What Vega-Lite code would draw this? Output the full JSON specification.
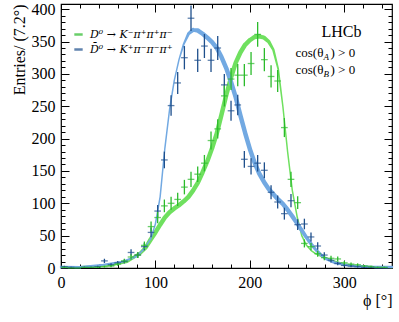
{
"$schema":"https://vega.github.io/schema/vega-lite/v6.json",
"width":331,"height":264,"autosize":{"type":"none"},
"padding":{"left":61,"top":4,"right":7,"bottom":54},
"background":"white",
"config":{"view":{"stroke":"black","strokeWidth":1.2},
 "axis":{"domain":false,"grid":false,"tickColor":"black","labelColor":"black","titleColor":"black","labelFont":"Liberation Serif","titleFont":"Liberation Serif","labelFontSize":16,"titleFontSize":16,"titleFontWeight":"normal","tickWidth":1}},
"datasets":{
"pts":[
{"s":"b","phi":3.6,"n":2,"e":1.4},{"s":"b","phi":10.7,"n":1,"e":1},{"s":"b","phi":17.7,"n":0,"e":0},{"s":"b","phi":24.8,"n":1,"e":1},{"s":"b","phi":31.8,"n":1,"e":1},{"s":"b","phi":38.9,"n":2,"e":1.4},{"s":"b","phi":46.0,"n":11,"e":3.3},{"s":"b","phi":53.0,"n":5,"e":2.2},{"s":"b","phi":60.1,"n":8,"e":2.8},{"s":"b","phi":67.1,"n":10,"e":3.2},{"s":"b","phi":74.2,"n":24,"e":4.9},{"s":"b","phi":81.3,"n":20,"e":4.5},{"s":"b","phi":88.3,"n":33,"e":5.7},{"s":"b","phi":95.4,"n":55,"e":7.4},{"s":"b","phi":102.4,"n":88,"e":9.4},{"s":"b","phi":109.5,"n":167,"e":12.9},{"s":"b","phi":116.6,"n":251,"e":15.8},{"s":"b","phi":123.6,"n":286,"e":16.9},{"s":"b","phi":130.7,"n":325,"e":18},{"s":"b","phi":137.7,"n":386,"e":19.6},{"s":"b","phi":144.8,"n":321,"e":17.9},{"s":"b","phi":151.9,"n":343,"e":18.5},{"s":"b","phi":158.9,"n":321,"e":17.9},{"s":"b","phi":166.0,"n":340,"e":18.4},{"s":"b","phi":173.0,"n":283,"e":16.8},{"s":"b","phi":180.1,"n":243,"e":15.6},{"s":"b","phi":187.2,"n":252,"e":15.9},{"s":"b","phi":194.2,"n":168,"e":13},{"s":"b","phi":201.3,"n":157,"e":12.5},{"s":"b","phi":208.3,"n":162,"e":12.7},{"s":"b","phi":215.4,"n":151,"e":12.3},{"s":"b","phi":222.5,"n":117,"e":10.8},{"s":"b","phi":229.5,"n":102,"e":10.1},{"s":"b","phi":236.6,"n":84,"e":9.2},{"s":"b","phi":243.6,"n":104,"e":10.2},{"s":"b","phi":250.7,"n":67,"e":8.2},{"s":"b","phi":257.8,"n":68,"e":8.2},{"s":"b","phi":264.8,"n":48,"e":6.9},{"s":"b","phi":271.9,"n":34,"e":5.8},{"s":"b","phi":278.9,"n":20,"e":4.5},{"s":"b","phi":286.0,"n":12,"e":3.5},{"s":"b","phi":293.1,"n":7,"e":2.6},{"s":"b","phi":300.1,"n":4,"e":2},{"s":"b","phi":307.2,"n":3,"e":1.7},{"s":"b","phi":314.2,"n":2,"e":1.4},{"s":"b","phi":321.3,"n":1,"e":1},{"s":"b","phi":328.4,"n":1,"e":1},{"s":"b","phi":335.4,"n":0,"e":0},{"s":"b","phi":342.5,"n":0,"e":0},
{"s":"g","phi":3.6,"n":1,"e":1},{"s":"g","phi":10.7,"n":0,"e":0},{"s":"g","phi":17.7,"n":0,"e":0},{"s":"g","phi":24.8,"n":1,"e":1},{"s":"g","phi":31.8,"n":1,"e":1},{"s":"g","phi":38.9,"n":1,"e":1},{"s":"g","phi":46.0,"n":2,"e":1.4},{"s":"g","phi":53.0,"n":3,"e":1.7},{"s":"g","phi":60.1,"n":6,"e":2.4},{"s":"g","phi":67.1,"n":11,"e":3.3},{"s":"g","phi":74.2,"n":17,"e":4.1},{"s":"g","phi":81.3,"n":20,"e":4.5},{"s":"g","phi":88.3,"n":35,"e":5.9},{"s":"g","phi":95.4,"n":64,"e":8},{"s":"g","phi":102.4,"n":78,"e":8.8},{"s":"g","phi":109.5,"n":96,"e":9.8},{"s":"g","phi":116.6,"n":100,"e":10},{"s":"g","phi":123.6,"n":106,"e":10.3},{"s":"g","phi":130.7,"n":125,"e":11.2},{"s":"g","phi":137.7,"n":137,"e":11.7},{"s":"g","phi":144.8,"n":145,"e":12},{"s":"g","phi":151.9,"n":162,"e":12.7},{"s":"g","phi":158.9,"n":197,"e":14},{"s":"g","phi":166.0,"n":215,"e":14.7},{"s":"g","phi":173.0,"n":266,"e":16.3},{"s":"g","phi":180.1,"n":292,"e":17.1},{"s":"g","phi":187.2,"n":298,"e":17.3},{"s":"g","phi":194.2,"n":298,"e":17.3},{"s":"g","phi":201.3,"n":316,"e":17.8},{"s":"g","phi":208.3,"n":361,"e":19},{"s":"g","phi":215.4,"n":322,"e":17.9},{"s":"g","phi":222.5,"n":296,"e":17.2},{"s":"g","phi":229.5,"n":289,"e":17},{"s":"g","phi":236.6,"n":217,"e":14.7},{"s":"g","phi":243.6,"n":137,"e":11.7},{"s":"g","phi":250.7,"n":101,"e":10},{"s":"g","phi":257.8,"n":38,"e":6.2},{"s":"g","phi":264.8,"n":33,"e":5.7},{"s":"g","phi":271.9,"n":22,"e":4.7},{"s":"g","phi":278.9,"n":16,"e":4},{"s":"g","phi":286.0,"n":15,"e":3.9},{"s":"g","phi":293.1,"n":14,"e":3.7},{"s":"g","phi":300.1,"n":8,"e":2.8},{"s":"g","phi":307.2,"n":6,"e":2.4},{"s":"g","phi":314.2,"n":5,"e":2.2},{"s":"g","phi":321.3,"n":3,"e":1.7},{"s":"g","phi":328.4,"n":2,"e":1.4},{"s":"g","phi":335.4,"n":1,"e":1},{"s":"g","phi":342.5,"n":1,"e":1}
],
"fit":[
{"s":"g","phi":0,"n":1.5,"w":2},{"s":"g","phi":20,"n":1.5,"w":2},{"s":"g","phi":40,"n":3,"w":2},{"s":"g","phi":55,"n":5,"w":2.5},{"s":"g","phi":70,"n":10,"w":3},{"s":"g","phi":84,"n":23,"w":3.5},{"s":"g","phi":90,"n":32,"w":4},{"s":"g","phi":95,"n":44,"w":4.5},{"s":"g","phi":100,"n":55,"w":4.5},{"s":"g","phi":105,"n":67,"w":4.5},{"s":"g","phi":110,"n":78,"w":4.5},{"s":"g","phi":115,"n":86,"w":4.5},{"s":"g","phi":120,"n":92,"w":4.5},{"s":"g","phi":125,"n":97,"w":4.5},{"s":"g","phi":130,"n":103,"w":4.5},{"s":"g","phi":135,"n":110,"w":4.5},{"s":"g","phi":140,"n":120,"w":4.5},{"s":"g","phi":145,"n":132,"w":4.5},{"s":"g","phi":150,"n":148,"w":4.5},{"s":"g","phi":155,"n":165,"w":4.5},{"s":"g","phi":160,"n":185,"w":4.5},{"s":"g","phi":165,"n":208,"w":4.5},{"s":"g","phi":170,"n":237,"w":4.5},{"s":"g","phi":175,"n":267,"w":4.5},{"s":"g","phi":180,"n":294,"w":4.5},{"s":"g","phi":185,"n":317,"w":4.5},{"s":"g","phi":190,"n":333,"w":4.5},{"s":"g","phi":195,"n":345,"w":4.5},{"s":"g","phi":200,"n":352,"w":4.5},{"s":"g","phi":205,"n":357,"w":4.5},{"s":"g","phi":210,"n":358,"w":4.5},{"s":"g","phi":215,"n":356,"w":4},{"s":"g","phi":220,"n":350,"w":3.5},{"s":"g","phi":225,"n":337,"w":2.5},{"s":"g","phi":230,"n":308,"w":1.8},{"s":"g","phi":235,"n":250,"w":1.5},{"s":"g","phi":240,"n":180,"w":1.5},{"s":"g","phi":245,"n":120,"w":1.5},{"s":"g","phi":250,"n":80,"w":1.5},{"s":"g","phi":255,"n":50,"w":1.5},{"s":"g","phi":260,"n":35,"w":1.5},{"s":"g","phi":265,"n":27,"w":1.5},{"s":"g","phi":270,"n":22,"w":1.5},{"s":"g","phi":280,"n":15,"w":1.8},{"s":"g","phi":290,"n":10,"w":2},{"s":"g","phi":300,"n":6,"w":2},{"s":"g","phi":310,"n":4,"w":2},{"s":"g","phi":330,"n":2,"w":2},{"s":"g","phi":350.6,"n":1,"w":2},
{"s":"b","phi":0,"n":1.5,"w":2.5},{"s":"b","phi":20,"n":1.5,"w":2},{"s":"b","phi":45,"n":5,"w":2},{"s":"b","phi":66,"n":10,"w":2},{"s":"b","phi":80,"n":18,"w":1.8},{"s":"b","phi":87,"n":28,"w":1.5},{"s":"b","phi":95,"n":45,"w":1.5},{"s":"b","phi":100,"n":68,"w":1.5},{"s":"b","phi":105,"n":110,"w":1.5},{"s":"b","phi":110,"n":185,"w":1.5},{"s":"b","phi":115,"n":245,"w":1.5},{"s":"b","phi":120,"n":290,"w":1.5},{"s":"b","phi":125,"n":322,"w":1.5},{"s":"b","phi":130,"n":346,"w":2},{"s":"b","phi":135,"n":362,"w":3},{"s":"b","phi":140,"n":368,"w":4},{"s":"b","phi":145,"n":367,"w":4.5},{"s":"b","phi":150,"n":362,"w":4.5},{"s":"b","phi":155,"n":356,"w":4.5},{"s":"b","phi":160,"n":349,"w":4.5},{"s":"b","phi":165,"n":340,"w":4.5},{"s":"b","phi":170,"n":326,"w":4.5},{"s":"b","phi":175,"n":309,"w":4.5},{"s":"b","phi":180,"n":288,"w":4.5},{"s":"b","phi":185,"n":264,"w":4.5},{"s":"b","phi":190,"n":236,"w":4.5},{"s":"b","phi":195,"n":209,"w":4.5},{"s":"b","phi":200,"n":184,"w":4.5},{"s":"b","phi":205,"n":163,"w":4.5},{"s":"b","phi":210,"n":146,"w":4.5},{"s":"b","phi":215,"n":133,"w":4.5},{"s":"b","phi":220,"n":122,"w":4.5},{"s":"b","phi":225,"n":114,"w":4.5},{"s":"b","phi":230,"n":106,"w":4.5},{"s":"b","phi":235,"n":99,"w":4.5},{"s":"b","phi":240,"n":90,"w":4.5},{"s":"b","phi":245,"n":80,"w":4.5},{"s":"b","phi":250,"n":69,"w":4},{"s":"b","phi":255,"n":58,"w":4},{"s":"b","phi":260,"n":47,"w":3.5},{"s":"b","phi":265,"n":37,"w":3.5},{"s":"b","phi":270,"n":28,"w":3},{"s":"b","phi":275,"n":21,"w":3},{"s":"b","phi":280,"n":15,"w":3},{"s":"b","phi":290,"n":8,"w":2.5},{"s":"b","phi":300,"n":5,"w":2.5},{"s":"b","phi":310,"n":3,"w":2.5},{"s":"b","phi":325,"n":2,"w":2.5},{"s":"b","phi":350.6,"n":1.5,"w":2.5}
],
"one":[{"k":1}]},
"resolve":{"axis":{"x":"independent","y":"independent"}},
"layer":[
{"data":{"name":"fit"},"transform":[{"filter":"datum.s === 'g'"}],
 "mark":{"type":"trail","color":"#6fe05f"},
 "encoding":{"x":{"field":"phi","type":"quantitative","scale":{"domain":[0,350.6],"nice":false,"zero":false},"axis":null},
  "y":{"field":"n","type":"quantitative","scale":{"domain":[0,408],"nice":false},"axis":null},
  "size":{"field":"w","type":"quantitative","scale":null}}},
{"data":{"name":"fit"},"transform":[{"filter":"datum.s === 'b'"}],
 "mark":{"type":"trail","color":"#72a9e2"},
 "encoding":{"x":{"field":"phi","type":"quantitative","scale":{"domain":[0,350.6],"nice":false,"zero":false},"axis":null},
  "y":{"field":"n","type":"quantitative","scale":{"domain":[0,408],"nice":false},"axis":null},
  "size":{"field":"w","type":"quantitative","scale":null}}},
{"data":{"name":"pts"},
 "mark":{"type":"errorbar","ticks":false,"thickness":1.3},
 "encoding":{"x":{"field":"phi","type":"quantitative","scale":{"domain":[0,350.6],"nice":false,"zero":false},
   "axis":{"orient":"bottom","values":[0,20,40,60,80,100,120,140,160,180,200,220,240,260,280,300,320,340],"labelExpr":"datum.value % 100 === 0 ? datum.label : ''","tickSize":{"condition":{"test":"datum.value % 100 === 0","value":-8},"value":-4},"labelPadding":14,"labelFlush":false,"title":"ϕ [°]","titleAnchor":"end","titlePadding":2}},
  "y":{"field":"n","type":"quantitative","scale":{"domain":[0,408],"nice":false},
   "axis":{"orient":"left","values":[0,10,20,30,40,50,60,70,80,90,100,110,120,130,140,150,160,170,180,190,200,210,220,230,240,250,260,270,280,290,300,310,320,330,340,350,360,370,380,390,400],"labelExpr":"datum.value % 50 === 0 ? datum.label : ''","tickSize":{"condition":{"test":"datum.value % 50 === 0","value":-8},"value":-4},"labelPadding":14,"labelFlush":false,"title":"Entries/ (7.2°)","titleAnchor":"end","titlePadding":4}},
  "yError":{"field":"e"},
  "color":{"field":"s","type":"nominal","scale":{"domain":["g","b"],"range":["#2bbb2b","#1e4f8c"]},
   "legend":{"orient":"none","legendX":12,"legendY":25,"title":null,"symbolType":"stroke","symbolSize":70,"symbolStrokeWidth":2.5,"labelFont":"DejaVu Serif","labelFontSize":11,"labelFontStyle":"italic","labelOffset":6,"rowPadding":3,"labelExpr":"datum.label === 'g' ? 'D⁰ → K⁻π⁺π⁺π⁻' : 'D\u0304⁰ → K⁺π⁻π⁻π⁺'"}}}},
{"data":{"name":"pts"},
 "mark":{"type":"tick","orient":"horizontal","size":6.7,"thickness":1.3},
 "encoding":{"x":{"field":"phi","type":"quantitative","scale":{"domain":[0,350.6],"nice":false,"zero":false},
   "axis":{"orient":"top","values":[0,20,40,60,80,100,120,140,160,180,200,220,240,260,280,300,320,340],"labels":false,"title":null,"tickSize":{"condition":{"test":"datum.value % 100 === 0","value":-8},"value":-4}}},
  "y":{"field":"n","type":"quantitative","scale":{"domain":[0,408],"nice":false},
   "axis":{"orient":"right","values":[0,10,20,30,40,50,60,70,80,90,100,110,120,130,140,150,160,170,180,190,200,210,220,230,240,250,260,270,280,290,300,310,320,330,340,350,360,370,380,390,400],"labels":false,"title":null,"tickSize":{"condition":{"test":"datum.value % 50 === 0","value":-8},"value":-4}}},
  "color":{"field":"s","type":"nominal"}}},
{"data":{"name":"one"},"mark":{"type":"text","font":"Liberation Serif","fontSize":16,"align":"center","baseline":"middle","color":"black"},
 "encoding":{"x":{"datum":297,"type":"quantitative","axis":null},"y":{"datum":364,"type":"quantitative","axis":null},"text":{"value":"LHCb"}}},
{"data":{"name":"one"},"mark":{"type":"text","font":"Liberation Serif","fontSize":13,"align":"left","baseline":"middle","color":"black"},
 "encoding":{"x":{"datum":248.4,"type":"quantitative","axis":null},"y":{"datum":332,"type":"quantitative","axis":null},"text":{"value":"cos(θ"}}},
{"data":{"name":"one"},"mark":{"type":"text","font":"Liberation Serif","fontSize":9,"fontStyle":"italic","align":"left","baseline":"middle","color":"black","dx":28,"dy":4},
 "encoding":{"x":{"datum":248.4,"type":"quantitative","axis":null},"y":{"datum":332,"type":"quantitative","axis":null},"text":{"value":"A"}}},
{"data":{"name":"one"},"mark":{"type":"text","font":"Liberation Serif","fontSize":13,"align":"left","baseline":"middle","color":"black","dx":35},
 "encoding":{"x":{"datum":248.4,"type":"quantitative","axis":null},"y":{"datum":332,"type":"quantitative","axis":null},"text":{"value":") > 0"}}},
{"data":{"name":"one"},"mark":{"type":"text","font":"Liberation Serif","fontSize":13,"align":"left","baseline":"middle","color":"black"},
 "encoding":{"x":{"datum":248.4,"type":"quantitative","axis":null},"y":{"datum":306,"type":"quantitative","axis":null},"text":{"value":"cos(θ"}}},
{"data":{"name":"one"},"mark":{"type":"text","font":"Liberation Serif","fontSize":9,"fontStyle":"italic","align":"left","baseline":"middle","color":"black","dx":28,"dy":4},
 "encoding":{"x":{"datum":248.4,"type":"quantitative","axis":null},"y":{"datum":306,"type":"quantitative","axis":null},"text":{"value":"B"}}},
{"data":{"name":"one"},"mark":{"type":"text","font":"Liberation Serif","fontSize":13,"align":"left","baseline":"middle","color":"black","dx":35},
 "encoding":{"x":{"datum":248.4,"type":"quantitative","axis":null},"y":{"datum":306,"type":"quantitative","axis":null},"text":{"value":") > 0"}}}
]
}
